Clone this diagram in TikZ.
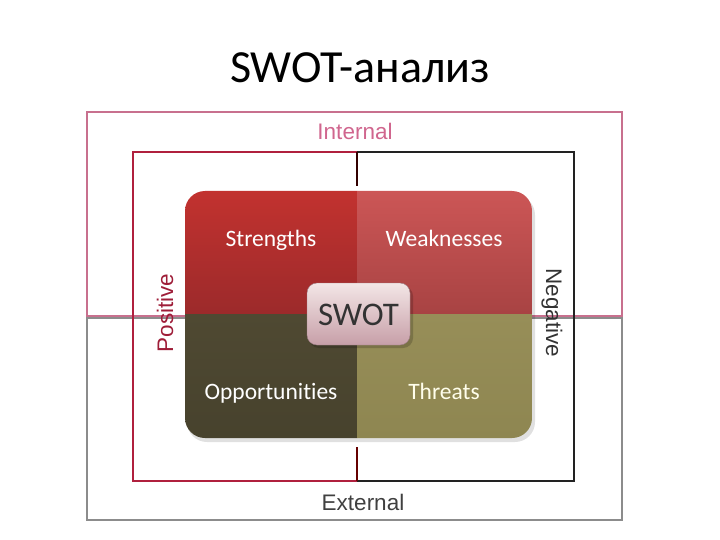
\documentclass[tikz,border=0pt]{standalone}
\usepackage{fontspec}
\setmainfont[Ligatures={NoCommon}]{Carlito}
\newfontfamily\arialf{Liberation Sans}
\usetikzlibrary{shadows}
\definecolor{pinkline}{HTML}{C8708E}
\definecolor{pinktext}{HTML}{D0668E}
\definecolor{grayline}{HTML}{8C8C8C}
\definecolor{crimson}{HTML}{B0203E}
\definecolor{darkline}{HTML}{222222}
\definecolor{strTop}{HTML}{C2322F}
\definecolor{strBot}{HTML}{9C2A2B}
\definecolor{weakTop}{HTML}{CC5656}
\definecolor{weakBot}{HTML}{A84343}
\definecolor{oppTop}{HTML}{4F4932}
\definecolor{oppBot}{HTML}{47422D}
\definecolor{thrTop}{HTML}{978E58}
\definecolor{thrBot}{HTML}{8E8651}
\definecolor{swotTop}{HTML}{F3E6E6}
\definecolor{swotBot}{HTML}{C79FA8}
\tikzset{
  quadlabel/.style={text=white, font=\fontsize{23.5}{28}\selectfont, inner sep=0pt, anchor=base},
  framelabel/.style={font=\arialf\fontsize{22.5}{27}\selectfont, inner sep=0pt},
}
\begin{document}
\begin{tikzpicture}[x=1pt,y=-1pt]
\useasboundingbox (0,0) rectangle (720,540);
% title
\node[anchor=base, font=\fontsize{46}{52}\selectfont, inner sep=0pt] (title) at (360,83) {SWOT-анализ};
% outer boxes
\draw[grayline, line width=2.2pt] (87,318) rectangle (622,520);
\draw[pinkline, line width=2pt] (87,112) rectangle (622,316);
\node[framelabel, text=pinktext] (internal) at (355,131) {Internal};
\node[framelabel, text=black!75] (external) at (363,502) {External};
% inner frame
\draw[crimson, line width=2pt] (357,152) -- (133,152) -- (133,481) -- (357,481);
\draw[darkline, line width=2pt] (357,152) -- (574,152) -- (574,481) -- (357,481);
\draw[black!80!red, line width=2.5pt] (357,152) -- (357,186);
\draw[black!60!red, line width=2.5pt] (357,447) -- (357,481);
\node[framelabel, text=crimson!90!black, rotate=90] (positive) at (165,313) {Positive};
\node[framelabel, text=black!80, rotate=-90] (negative) at (552,313) {Negative};
% big square with shadow
\fill[black, opacity=0.12] (187,195) [rounded corners=20pt] rectangle (535,442);
\begin{scope}
  \clip[rounded corners=20pt] (185,191) rectangle (532,438);
  \shade[top color=strTop, bottom color=strBot] (185,191) rectangle (357,314);
  \shade[top color=weakTop, bottom color=weakBot] (357,191) rectangle (532,314);
  \shade[top color=oppTop, bottom color=oppBot] (185,314) rectangle (357,438);
  \shade[top color=thrTop, bottom color=thrBot] (357,314) rectangle (532,438);
\end{scope}
\node[quadlabel] (strengths) at (271,246) {Strengths};
\node[quadlabel] (weaknesses) at (444,246) {Weaknesses};
\node[quadlabel] (opportunities) at (271,399) {Opportunities};
\node[quadlabel, text=white!92!yellow] (threats) at (444,399) {Threats};
% center SWOT
\fill[black, opacity=0.18, rounded corners=10pt] (309,286) rectangle (413,348);
\shade[top color=swotTop, bottom color=swotBot, rounded corners=10pt, draw=swotBot!80!black, line width=0.4pt] (307,283) rectangle (410,345);
\node[font=\fontsize{33}{38}\selectfont, text=black!80, inner sep=0pt] (swot) at (358.5,315) {SWOT};
\end{tikzpicture}
\end{document}
